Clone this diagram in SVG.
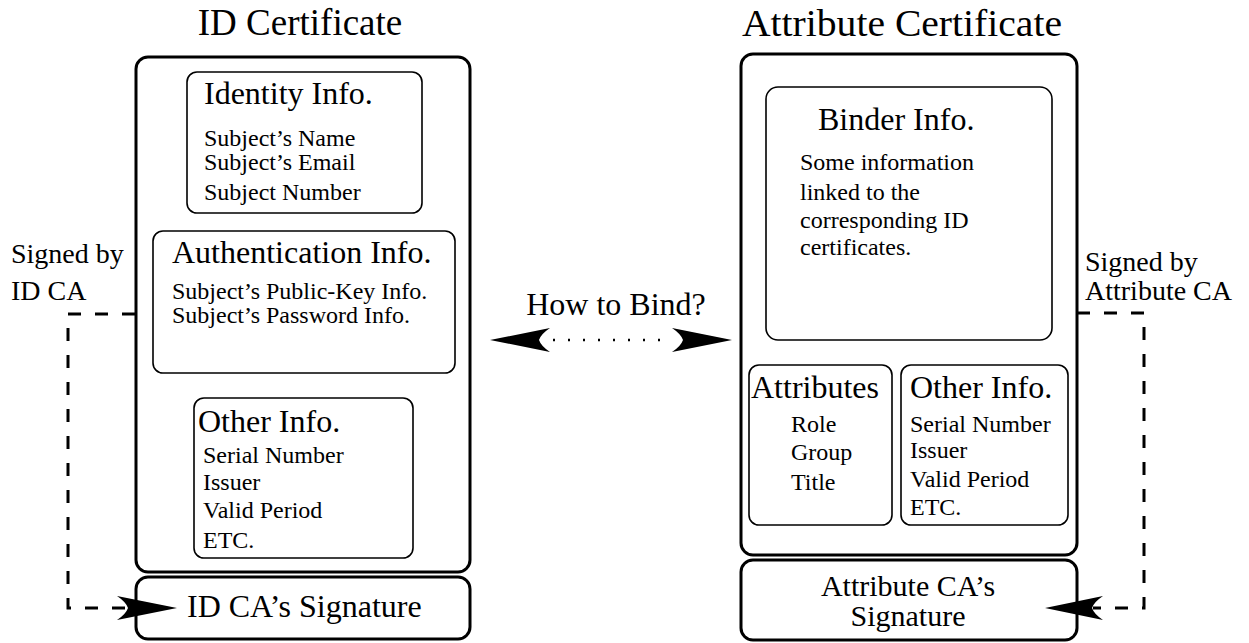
<svg xmlns="http://www.w3.org/2000/svg" width="1249" height="643" viewBox="0 0 1249 643">
<style>
text{font-family:"Liberation Serif","Times New Roman",serif;fill:#000}
.outer{fill:none;stroke:#000;stroke-width:3}
.inner{fill:none;stroke:#000;stroke-width:1.6}
.big{font-size:37px}
.ttl{font-size:32px}
.body{font-size:24px}
.side{font-size:28px}
.sig{font-size:30px}
.dash{fill:none;stroke:#000;stroke-width:3;stroke-dasharray:13 14}
.dot{fill:none;stroke:#000;stroke-width:2.5;stroke-dasharray:2 13}
.head{fill:#000;stroke:none}
</style>
<rect width="1249" height="643" fill="#fff"/>

<g id="id-certificate">
  <text class="big" x="300" y="35" text-anchor="middle">ID Certificate</text>
  <rect class="outer" x="136" y="57" width="334" height="515" rx="12"/>
</g>
<g id="identity-info">
  <rect class="inner" x="187" y="72" width="235" height="141" rx="10"/>
  <text class="ttl" x="204" y="104">Identity Info.</text>
  <text class="body" x="204" y="146">Subject’s Name</text>
  <text class="body" x="204" y="170">Subject’s Email</text>
  <text class="body" x="204" y="200">Subject Number</text>
</g>
<g id="authentication-info">
  <rect class="inner" x="153" y="231" width="302" height="142" rx="10"/>
  <text class="ttl" x="172" y="263">Authentication Info.</text>
  <text class="body" x="172" y="299">Subject’s Public-Key Info.</text>
  <text class="body" x="172" y="323">Subject’s Password Info.</text>
</g>
<g id="id-other-info">
  <rect class="inner" x="194" y="398" width="219" height="160" rx="10"/>
  <text class="ttl" x="198" y="432">Other Info.</text>
  <text class="body" x="203" y="463">Serial Number</text>
  <text class="body" x="203" y="490">Issuer</text>
  <text class="body" x="203" y="518">Valid Period</text>
  <text class="body" x="203" y="548">ETC.</text>
</g>
<g id="id-signature">
  <rect class="outer" x="136" y="577" width="334" height="62" rx="12"/>
  <text class="ttl" x="187" y="617">ID CA’s Signature</text>
</g>
<g id="id-signed-label">
  <text class="side" x="11" y="263">Signed by</text>
  <text class="side" x="11" y="300">ID CA</text>
</g>

<g id="attribute-certificate">
  <text class="big" x="742" y="36" textLength="320" lengthAdjust="spacingAndGlyphs">Attribute Certificate</text>
  <rect class="outer" x="741" y="54" width="336" height="501" rx="12"/>
</g>
<g id="binder-info">
  <rect class="inner" x="766" y="87" width="286" height="253" rx="12"/>
  <text class="ttl" x="818" y="130">Binder Info.</text>
  <text class="body" x="800" y="170">Some information</text>
  <text class="body" x="800" y="200">linked to the</text>
  <text class="body" x="800" y="228">corresponding ID</text>
  <text class="body" x="800" y="255">certificates.</text>
</g>
<g id="attributes">
  <rect class="inner" x="749" y="365" width="143" height="160" rx="10"/>
  <text class="ttl" x="751" y="398">Attributes</text>
  <text class="body" x="791" y="432">Role</text>
  <text class="body" x="791" y="460">Group</text>
  <text class="body" x="791" y="490">Title</text>
</g>
<g id="attr-other-info">
  <rect class="inner" x="901" y="365" width="167" height="160" rx="10"/>
  <text class="ttl" x="910" y="398">Other Info.</text>
  <text class="body" x="910" y="432">Serial Number</text>
  <text class="body" x="910" y="458">Issuer</text>
  <text class="body" x="910" y="487">Valid Period</text>
  <text class="body" x="910" y="515">ETC.</text>
</g>
<g id="attr-signature">
  <rect class="outer" x="741" y="560" width="336" height="80" rx="12"/>
  <text class="sig" x="908" y="596" text-anchor="middle">Attribute CA’s</text>
  <text class="sig" x="908" y="626" text-anchor="middle">Signature</text>
</g>
<g id="attr-signed-label">
  <text class="side" x="1085" y="271">Signed by</text>
  <text class="side" x="1085" y="300">Attribute CA</text>
</g>
<g id="bind-label">
  <text class="ttl" x="616" y="315" text-anchor="middle">How to Bind?</text>
</g>

<g id="connectors">
  <path class="dash" d="M135,314 H68 V608 H128"/>
  <path class="head" d="M177,608 L117,596 Q126,602 128,608 Q126,614 117,620 Z"/>
  <path class="dash" d="M1077,313 H1144 V608 H1093"/>
  <path class="head" d="M1045,608 L1103,596 Q1094,602 1092,608 Q1094,614 1103,620 Z"/>
  <path class="dot" d="M553,340 H672"/>
  <path class="head" d="M490,340 L550,328 Q541,334 539,340 Q541,346 550,352 Z"/>
  <path class="head" d="M732,340 L672,328 Q681,334 683,340 Q681,346 672,352 Z"/>
</g>
</svg>
